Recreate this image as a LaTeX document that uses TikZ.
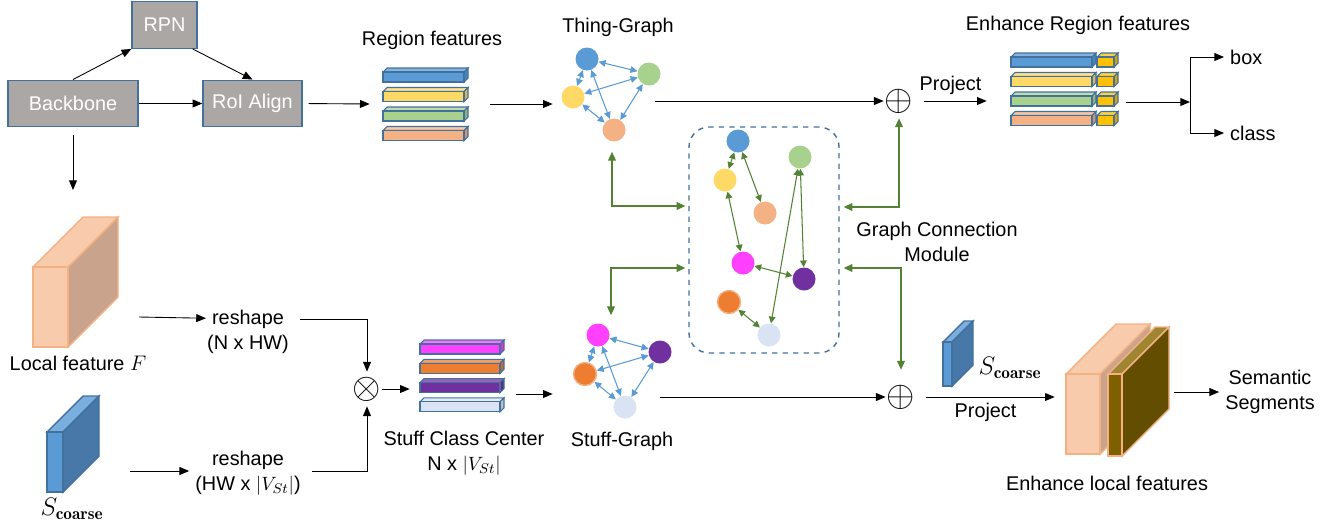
\documentclass[tikz,border=0pt]{standalone}
\usepackage{fontspec}
\setsansfont{Liberation Sans}
\usetikzlibrary{calc}
\usetikzlibrary{positioning}
\usetikzlibrary{arrows.meta}

\definecolor{boxgray}{HTML}{ABA7A4}
\definecolor{boxedge}{HTML}{41719C}
\definecolor{cblue}{HTML}{5B9BD5}
\definecolor{cyellow}{HTML}{FFD966}
\definecolor{cgreen}{HTML}{A9D18E}
\definecolor{csalmon}{HTML}{F4B183}
\definecolor{cmagenta}{HTML}{FF40FF}
\definecolor{corange}{HTML}{ED7D31}
\definecolor{cpurple}{HTML}{7030A0}
\definecolor{cpale}{HTML}{DAE3F3}
\definecolor{cgold}{HTML}{FFC000}
\definecolor{linkgreen}{HTML}{548235}
\definecolor{lfront}{HTML}{F8CBAD}
\definecolor{lside}{HTML}{C9A38C}
\definecolor{sside}{HTML}{4878A8}
\definecolor{stop}{HTML}{7AAEDF}
\definecolor{dfront}{HTML}{7F6000}
\definecolor{dside}{HTML}{634D00}
\definecolor{dtop}{HTML}{9E8530}

\tikzset{every picture/.style={/utils/exec={\sffamily}}}
\tikzset{
  txt/.style={font=\fontsize{11.3}{14.5}\selectfont},
  bigmath/.style={font=\fontsize{14}{16}\selectfont},
  graybox/.style={draw=boxedge, fill=boxgray, text=white, minimum height=0.93cm,
    inner sep=0, line width=0.8pt},
  gnode/.style={circle, minimum size=0.46cm, inner sep=0, fill=#1},
  arr/.style={-{Triangle[length=5.5pt,width=4.5pt]}, line width=0.5pt},
  thinglink/.style={{Triangle[length=4pt,width=3.8pt]}-{Triangle[length=4pt,width=3.8pt]},
    draw=cblue, line width=0.6pt},
  gcmlink/.style={{Triangle[length=5pt,width=4.5pt]}-{Triangle[length=5pt,width=4.5pt]},
    draw=linkgreen, line width=0.6pt},
  innerlink/.style={{Triangle[length=3.8pt,width=3.8pt]}-{Triangle[length=3.8pt,width=3.8pt]},
    draw=linkgreen, line width=0.6pt},
  oplus/.style={inner sep=0.5pt, font=\fontsize{20}{20}\selectfont},
  stack/.style={minimum height=1.6cm, inner sep=0},
}

% x, y, width, fill
\newcommand{\featbar}[4]{%
  \filldraw[fill=#4!75!white, draw=boxedge, line width=0.6pt]
    (#1,#2) -- ++(4,-4) -- ++(#3,0) -- ++(-4,4) -- cycle;
  \filldraw[fill=#4!85!black, draw=boxedge, line width=0.6pt]
    (#1+#3,#2) -- ++(4,-4) -- ++(0,10) -- ++(-4,4) -- cycle;
  \filldraw[fill=#4, draw=boxedge, line width=0.6pt] (#1,#2) rectangle ++(#3,10);}

% x, y, width, height, depth, front, side, top, border
\newcommand{\cuboid}[9]{%
  \filldraw[fill=#8, draw=#9, line width=0.8pt]
    (#1,#2) -- ++(#5,-#5) -- ++(#3,0) -- ++(-#5,#5) -- cycle;
  \filldraw[fill=#7, draw=#9, line width=0.8pt]
    (#1+#3,#2) -- ++(#5,-#5) -- ++(0,#4) -- ++(-#5,#5) -- cycle;
  \filldraw[fill=#6, draw=#9, line width=0.8pt] (#1,#2) rectangle ++(#3,#4);}

\begin{document}
\begin{tikzpicture}[x=0.02cm, y=-0.02cm, every node/.style={txt}]
  \useasboundingbox (0,0) rectangle (1327,525);

  % detection branch
  \node[graybox, minimum width=1.3cm] (rpn) at (164.5,25) {RPN};
  \node[graybox, minimum width=2.6cm] (backbone) at (73,103.5) {Backbone};
  \node[graybox, minimum width=1.98cm] (roi) at (252.5,103.5) {RoI Align};
  \draw[arr] (backbone.north) -- (rpn.south west);
  \draw[arr] ($(rpn.south east)+(-5,0)$) -- (roi.north);
  \draw[arr] (backbone) -- (roi);
  \coordinate (bbdown) at (73,190);
  \draw[arr] ($(backbone.south)+(0,8)$) -- (bbdown);

  % region features
  \node (rftitle) at (432,40) {Region features};
  \foreach \c [count=\i from 0] in {cblue,cyellow,cgreen,csalmon}
    {\featbar{383}{72+19.5*\i}{81}{\c}}
  \node[stack, minimum width=2.4cm] (regfeat) at (430,104) {};
  \draw[arr, shorten <=0.12cm] (roi.east) -- (regfeat.west);

  % thing graph
  \node (tgtitle) at (618,27) {Thing-Graph};
  \node[gnode=cblue] (tb) at (587,59) {};
  \node[gnode=cgreen] (tg) at (649,74) {};
  \node[gnode=cyellow] (ty) at (573,97) {};
  \node[gnode=csalmon] (ts) at (614,130) {};
  \foreach \a/\b in {tb/ty,tb/tg,tb/ts,ty/tg,ty/ts,tg/ts}
    \draw[thinglink] (\a) -- (\b);
  \node[stack, minimum width=2.04cm] (thing) at (604,95) {};
  \draw[arr] (regfeat.east) -- (regfeat.east -| thing.west);

  \node[oplus] (plusA) at (899,101) {$\oplus$};
  \draw[arr] (thing.east |- plusA) -- (plusA);

  % enhanced region features
  \node (erftitle) at (1078,25) {Enhance Region features};
  \foreach \c [count=\i from 0] in {cblue,cyellow,cgreen,csalmon}
    {\featbar{1011}{57+19.5*\i}{81}{\c}
     \featbar{1097}{57+19.5*\i}{17}{cgold}}
  \node[stack, minimum width=2.78cm] (erf) at (1056.5,90) {};
  \draw[arr, shorten <=0.2cm] (plusA) -- node[above] {Project} (plusA -| erf.west);

  \coordinate (split) at (1190,102);
  \node[anchor=west] (box) at (1224,57) {box};
  \node[anchor=west] (cls) at (1224,133) {class};
  \draw[arr] (erf.east |- split) -- (split);
  \draw[arr] (split) |- (box.west);
  \draw[arr] (split) |- (cls.west);

  % graph connection module
  \node[draw=boxedge, dashed, line width=0.8pt, rounded corners=0.4cm,
        minimum width=3cm, minimum height=4.52cm] (gcm) at (764,240) {};
  \node[align=center] (gcmlabel) at (937,242) {Graph Connection\\Module};
  \node[gnode=cblue] (mb) at (738,141) {};
  \node[gnode=cyellow] (my) at (725,180) {};
  \node[gnode=csalmon] (ms) at (765,213) {};
  \node[gnode=cgreen] (mg) at (800,157) {};
  \node[gnode=cmagenta] (mm) at (743,263) {};
  \node[gnode=cpurple] (mp) at (804,279) {};
  \node[gnode=corange, draw=corange!60, line width=0.8pt] (mo) at (729,302) {};
  \node[gnode=cpale] (ml) at (769,335) {};
  \foreach \a/\b in {mb/my,mb/ms,my/mm,mg/mp,mg/ml,mm/mp,mo/ml}
    \draw[innerlink] (\a) -- (\b);

  \coordinate (gcm-lt) at ($(gcm.west)+(-3,-34)$);
  \coordinate (gcm-lb) at ($(gcm.west)+(-3,28)$);
  \coordinate (gcm-rt) at ($(gcm.east)+(4,-33)$);
  \coordinate (gcm-rb) at ($(gcm.east)+(4,28)$);

  % local feature branch
  \cuboid{33}{267}{35}{80}{50}{lfront}{lside}{lfront}{csalmon}
  \node (lflabel) at (78,363) {Local feature {\fontsize{13}{15}\selectfont$F$}};
  \cuboid{47}{432}{16}{60}{36}{cblue}{sside}{stop}{boxedge}
  \node[bigmath] (sclabel) at (72,509) {$S_{\mathbf{coarse}}$};

  \node[label={[label distance=-3pt]below:(N x HW)}] (rs1) at (248,319) {reshape};
  \node[align=center] (rs2) at (248,473) {reshape\\(HW x $|V_{St}|$)};
  \coordinate (lfout) at (139,317);
  \coordinate (scout) at (130,471);
  \draw[arr] (lfout) -- (rs1);
  \draw[arr] (scout) -- (rs2.west |- scout);

  \node[oplus] (times) at (367,389) {$\otimes$};
  \draw[arr, shorten <=0.2cm] (rs1.east) -| ($(times.north)+(0,-4)$);
  \draw[arr, shorten <=0.1cm] (rs2.east |- scout) -| ($(times.south)+(0,4)$);

  % stuff class center
  \foreach \c [count=\i from 0] in {cmagenta,corange,cpurple,cpale}
    {\featbar{420}{344+19.3*\i}{80}{\c}}
  \node[stack, minimum width=2.12cm] (scc) at (463,378) {};
  \node[align=center] (scclabel) at (464,453) {Stuff Class Center\\N x $|V_{St}|$};
  \draw[arr] (times) -- (times -| scc.west);

  % stuff graph
  \node[gnode=cmagenta] (sm) at (598,335) {};
  \node[gnode=cpurple] (sp) at (660,352) {};
  \node[gnode=corange, draw=corange!60, line width=0.8pt] (so) at (585,374) {};
  \node[gnode=cpale] (sl) at (625,407) {};
  \foreach \a/\b in {sm/so,sm/sp,sm/sl,so/sp,so/sl,sp/sl}
    \draw[thinglink] (\a) -- (\b);
  \node[stack, minimum width=2.14cm] (stuff) at (606.5,372) {};
  \node (sglabel) at (622,441) {Stuff-Graph};
  \draw[arr] ($(scc.east)+(0,16)$) -- ($(stuff.west)+(0,22)$);

  \node[oplus] (plusB) at (901,397) {$\oplus$};
  \draw[arr] (stuff.east |- plusB) -- (plusB);

  % links to the module
  \draw[gcmlink] ($(ts.south)+(-2,10)$) |- (gcm-lt);
  \draw[gcmlink] (gcm-lb) -| ($(sm.north)+(13,-8)$);
  \draw[gcmlink] (gcm-rt) -| ($(plusA.south)+(0,4)$);
  \draw[gcmlink] (gcm-rb) -| ($(plusB.north)+(0,-14)$);

  % enhanced local features
  \cuboid{943}{342}{9}{44}{21}{cblue}{sside}{stop}{boxedge}
  \node[bigmath] (sc2label) at (1010,368) {$S_{\mathbf{coarse}}$};
  \cuboid{1066}{374}{34}{80}{50}{lfront}{lside}{lfront}{csalmon}
  \cuboid{1108}{374}{14}{82}{47}{dfront}{dside}{dtop}{csalmon}
  \node[minimum width=2.38cm, minimum height=2cm, inner sep=0] (elf) at (1114.5,392) {};
  \node (elflabel) at (1107,483) {Enhance local features};
  \draw[arr, shorten <=0.2cm] (plusB) -- node[below] {Project} (plusB -| elf.west);
  \node[align=center] (seg) at (1270,392) {Semantic\\Segments};
  \draw[arr] (elf.east) -- (seg.west);
\end{tikzpicture}
\end{document}
